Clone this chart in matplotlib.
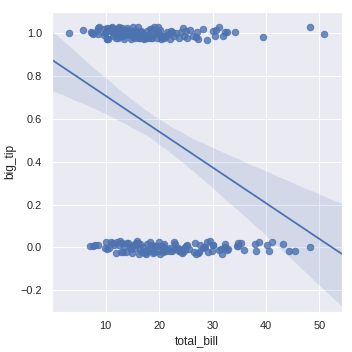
import numpy as np
import pandas as pd
import matplotlib
matplotlib.use("Agg")
import matplotlib.pyplot as plt
import seaborn as sns

# total_bill values, split by big_tip row
big_bills = [3.1, 5.8, 7.3, 7.5, 7.7, 8.4, 8.5, 8.6, 8.8, 9.6, 9.7, 9.8, 10.1, 10.3,
             10.3, 10.3, 10.5, 10.6, 10.8, 11.0, 11.2, 11.4, 11.6, 11.9, 12.0, 12.2,
             12.3, 12.5, 12.6, 12.7, 12.9, 13.0, 13.0, 13.3, 13.4, 13.4, 13.5, 13.8,
             13.9, 14.0, 14.1, 14.3, 14.5, 14.7, 14.8, 15.0, 15.1, 15.4, 15.5, 15.7,
             15.8, 16.0, 16.0, 16.3, 16.3, 16.5, 16.6, 16.9, 17.0, 17.1, 17.3, 17.5,
             17.8, 17.9, 18.0, 18.2, 18.3, 18.4, 18.6, 18.7, 19.1, 19.4, 19.7, 19.8,
             20.1, 20.3, 20.5, 20.7, 20.9, 21.0, 21.2, 21.6, 22.0, 22.2, 22.5, 22.8,
             23.2, 23.7, 24.1, 24.5, 24.7, 25.0, 25.3, 25.7, 26.4, 26.9, 27.0, 27.3,
             28.2, 28.9, 30.0, 30.4, 30.7, 31.3, 32.0, 32.4, 32.7, 34.3, 39.4, 48.3, 50.8,
             10.4, 10.9, 11.3, 11.7, 12.1, 12.4, 12.8, 13.1, 13.6, 14.2, 14.6, 15.2,
             15.6, 16.1, 16.7, 17.2, 17.6, 12.0, 13.2, 14.9, 18.9, 19.6, 20.4, 21.4]
small_bills = [7.1, 7.6, 8.0, 8.5, 9.9, 10.1, 10.3, 10.6, 11.0, 11.4, 11.6, 12.0, 12.2,
               12.5, 12.7, 12.8, 13.0, 13.2, 13.4, 13.8, 14.0, 14.2, 14.5, 14.8, 15.0,
               15.2, 15.4, 15.5, 15.7, 15.9, 16.0, 16.2, 16.4, 16.5, 16.8, 17.0, 17.3,
               17.5, 17.6, 17.8, 18.0, 18.2, 18.3, 18.6, 18.8, 19.0, 19.3, 19.5, 19.8,
               20.0, 20.3, 20.5, 20.7, 20.9, 21.0, 21.5, 22.1, 22.4, 22.7, 23.0, 23.3,
               23.7, 24.0, 24.3, 24.6, 24.8, 25.2, 25.6, 26.6, 26.9, 27.2, 27.6, 28.2,
               28.5, 29.0, 29.5, 29.9, 30.1, 31.3, 31.7, 32.3, 32.8, 32.9, 34.6, 34.7,
               34.8, 35.3, 35.8, 38.0, 38.1, 38.7, 40.2, 40.6, 41.2, 43.1, 44.3, 45.4, 48.2,
               20.2, 21.2, 22.0, 22.9, 23.5, 24.2, 25.0, 26.7, 27.4, 28.4, 29.2, 30.0,
               31.5, 32.4, 20.8, 24.5]

tips = pd.DataFrame({
    "total_bill": big_bills + small_bills,
    "big_tip": [1] * len(big_bills) + [0] * len(small_bills),
})

sns.set_theme(style="darkgrid", context="notebook")
plt.rcParams["font.family"] = ["Liberation Sans", "DejaVu Sans"]

fig = plt.figure(figsize=(352 / 72, 352 / 72), dpi=72)
ax = fig.add_axes([0.147, 0.1145, 0.824, 0.852])
ax.set_xlim(-0.1, 54.2)
ax.set_ylim(-0.3, 1.1)

np.random.seed(0)
sns.regplot(data=tips, x="total_bill", y="big_tip", y_jitter=.03,
            truncate=False, seed=0, ax=ax,
            scatter_kws={"s": 42}, line_kws={"lw": 1.8})
ax.set_xticks([10, 20, 30, 40, 50])
ax.set_yticks([-0.2, 0.0, 0.2, 0.4, 0.6, 0.8, 1.0])
fig.savefig("out.png", dpi=72)
